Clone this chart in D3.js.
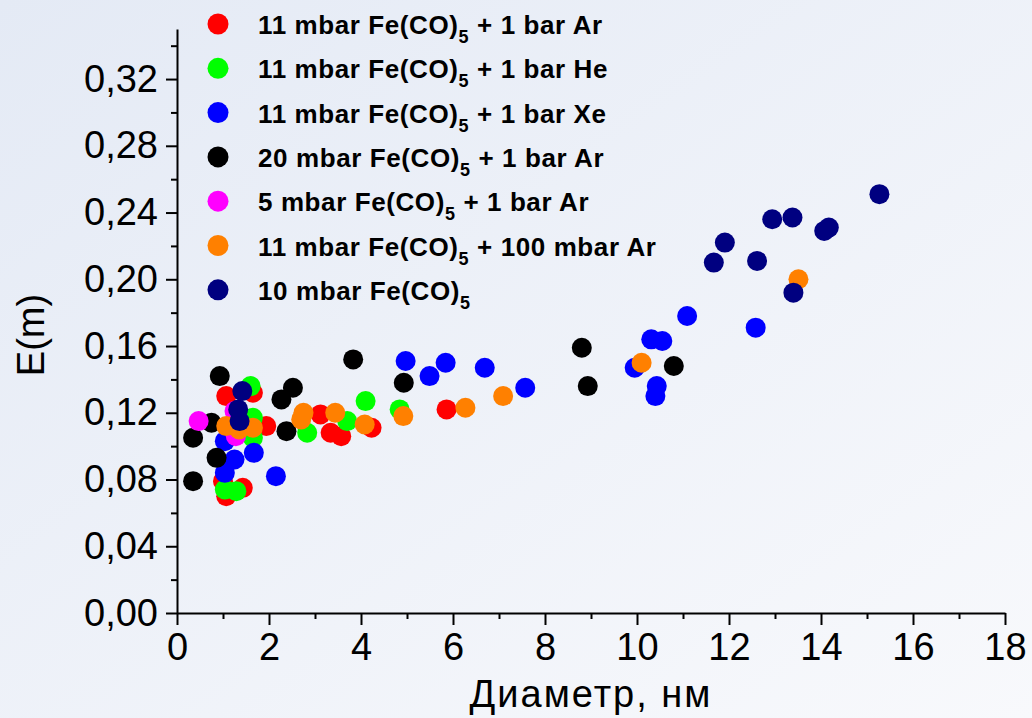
<!DOCTYPE html>
<html>
<head>
<meta charset="utf-8">
<script src="https://cdn.jsdelivr.net/npm/d3@7"></script>
<style>
  body { margin: 0; padding: 0; overflow: hidden; }
  svg { display: block; font-family: "Liberation Sans", Arial, sans-serif; }
</style>
</head>
<body>
<div id="chart"></div>
<script>
// chart data (diameter nm, E(m))
var ar11 = [[1.07,0.130],[1.65,0.132],[1.94,0.112],[1.0,0.079],[1.43,0.075],[1.07,0.070],
            [3.12,0.119],[3.34,0.108],[3.57,0.106],[4.23,0.111],[5.86,0.122]];
var he11 = [[1.60,0.136],[1.65,0.117],[1.65,0.105],[1.04,0.074],[1.29,0.073],[2.83,0.108],
            [3.70,0.115],[4.10,0.127],[4.84,0.122]];
var xe11 = [[1.04,0.103],[1.25,0.092],[1.67,0.096],[1.04,0.084],[2.15,0.082],[4.97,0.151],
            [5.49,0.142],[5.84,0.150],[6.69,0.147],[7.57,0.135],[9.95,0.147],[10.31,0.164],
            [10.55,0.163],[10.43,0.136],[10.40,0.130],[11.09,0.178],[12.58,0.171]];
var ar20 = [[0.93,0.142],[0.75,0.114],[0.35,0.105],[0.86,0.093],[0.35,0.079],[2.27,0.128],
            [2.52,0.135],[2.38,0.109],[3.83,0.152],[4.93,0.138],[8.80,0.159],[8.93,0.136],
            [10.80,0.148]];
var ar5 = [[0.47,0.115],[1.25,0.121],[1.28,0.106]];
var ar100 = [[1.07,0.112],[1.35,0.110],[1.65,0.111],[2.75,0.120],[2.70,0.116],[3.44,0.120],
             [4.08,0.113],[4.92,0.118],[6.27,0.123],[7.09,0.130],[10.10,0.150],[13.51,0.200]];
var pure10 = [[1.42,0.133],[1.33,0.122],[1.36,0.115],[11.67,0.210],[11.91,0.222],[12.61,0.211],
              [12.94,0.236],[13.38,0.237],[13.40,0.192],[14.07,0.229],[14.17,0.231],[15.27,0.251]];

var seriesNames = [
  ["11 mbar Fe(CO)", " + 1 bar Ar"],
  ["11 mbar Fe(CO)", " + 1 bar He"],
  ["11 mbar Fe(CO)", " + 1 bar Xe"],
  ["20 mbar Fe(CO)", " + 1 bar Ar"],
  ["5 mbar Fe(CO)", " + 1 bar Ar"],
  ["11 mbar Fe(CO)", " + 100 mbar Ar"],
  ["10 mbar Fe(CO)", ""]
];
var seriesColors = ["#ff0000", "#00ff00", "#0000ff", "#000000", "#ff00ff", "#ff8000", "#000080"];
var seriesData = [ar11, he11, xe11, ar20, ar5, ar100, pure10];

var xTicks = [0, 2, 4, 6, 8, 10, 12, 14, 16, 18];
var yTicks = [0, 0.04, 0.08, 0.12, 0.16, 0.20, 0.24, 0.28, 0.32];

var WIDTH = 1032, HEIGHT = 718;
var svg = d3.select("#chart").append("svg")
    .attr("width", WIDTH)
    .attr("height", HEIGHT);

// soft background gradient
var grad = svg.append("defs").append("linearGradient")
    .attr("id", "bg").attr("x1", 0).attr("y1", 0).attr("x2", 1).attr("y2", 1);
grad.append("stop").attr("offset", "0%").attr("stop-color", "#e4eaf5");
grad.append("stop").attr("offset", "100%").attr("stop-color", "#f8f9fc");
svg.append("rect").attr("width", WIDTH).attr("height", HEIGHT).attr("fill", "url(#bg)");

var x = d3.scaleLinear().domain([0, 18]).range([177, 1005]);
var y = d3.scaleLinear().domain([0, 0.35]).range([613, 29]);

var fmt = function (d) { return d3.format(".2f")(d).replace(".", ","); };

// minor ticks first
svg.append("g")
    .attr("transform", "translate(0,613)")
    .call(d3.axisBottom(x).tickValues(d3.range(1, 18, 2)).tickSize(6).tickFormat(""))
    .call(function (g) { g.select(".domain").remove(); });
svg.append("g")
    .attr("transform", "translate(177,0)")
    .call(d3.axisLeft(y).tickValues(d3.range(0.02, 0.35, 0.04)).tickSize(6).tickFormat(""))
    .call(function (g) { g.select(".domain").remove(); });

var xAxis = svg.append("g")
    .attr("transform", "translate(0,613)")
    .call(d3.axisBottom(x).tickValues(xTicks).tickSize(12).tickSizeOuter(0).tickPadding(8));
var yAxis = svg.append("g")
    .attr("transform", "translate(177,0)")
    .call(d3.axisLeft(y).tickValues(yTicks).tickSize(11).tickSizeOuter(0).tickPadding(8).tickFormat(fmt));

svg.selectAll(".tick line").attr("stroke", "#000").attr("stroke-width", 2);
svg.selectAll(".domain").attr("stroke", "#000").attr("stroke-width", 2);
xAxis.selectAll("text").attr("font-size", 38).attr("fill", "#000")
    .attr("font-family", "Liberation Sans, Arial, sans-serif");
yAxis.selectAll("text").attr("font-size", 38).attr("fill", "#000")
    .attr("font-family", "Liberation Sans, Arial, sans-serif");

// axis titles
svg.append("text")
    .attr("transform", "translate(44,335) rotate(-90)")
    .attr("text-anchor", "middle")
    .attr("font-size", 38)
    .text("E(m)");
svg.append("text")
    .attr("x", 591).attr("y", 707)
    .attr("text-anchor", "middle")
    .attr("font-size", 38)
    .attr("letter-spacing", 2)
    .text("Диаметр, нм");

// points, drawn in legend order
seriesData.forEach(function (data, i) {
    svg.append("g").selectAll("circle")
        .data(data)
        .enter().append("circle")
        .attr("cx", function (d) { return x(d[0]); })
        .attr("cy", function (d) { return y(d[1]); })
        .attr("r", 10)
        .attr("fill", seriesColors[i]);
});

// legend
var legend = svg.append("g");
seriesNames.forEach(function (name, i) {
    var cy = 24 + i * 44.3;
    legend.append("circle")
        .attr("cx", 218).attr("cy", cy).attr("r", 10.5)
        .attr("fill", seriesColors[i]);
    var t = legend.append("text")
        .attr("x", 258).attr("y", cy + 10)
        .attr("font-size", 26).attr("font-weight", "bold")
        .attr("letter-spacing", 0.6);
    t.append("tspan").text(name[0]);
    t.append("tspan").attr("dy", 9).attr("font-size", 18).text("5");
    t.append("tspan").attr("dy", -9).attr("xml:space", "preserve").text(name[1]);
});
</script>
</body>
</html>
